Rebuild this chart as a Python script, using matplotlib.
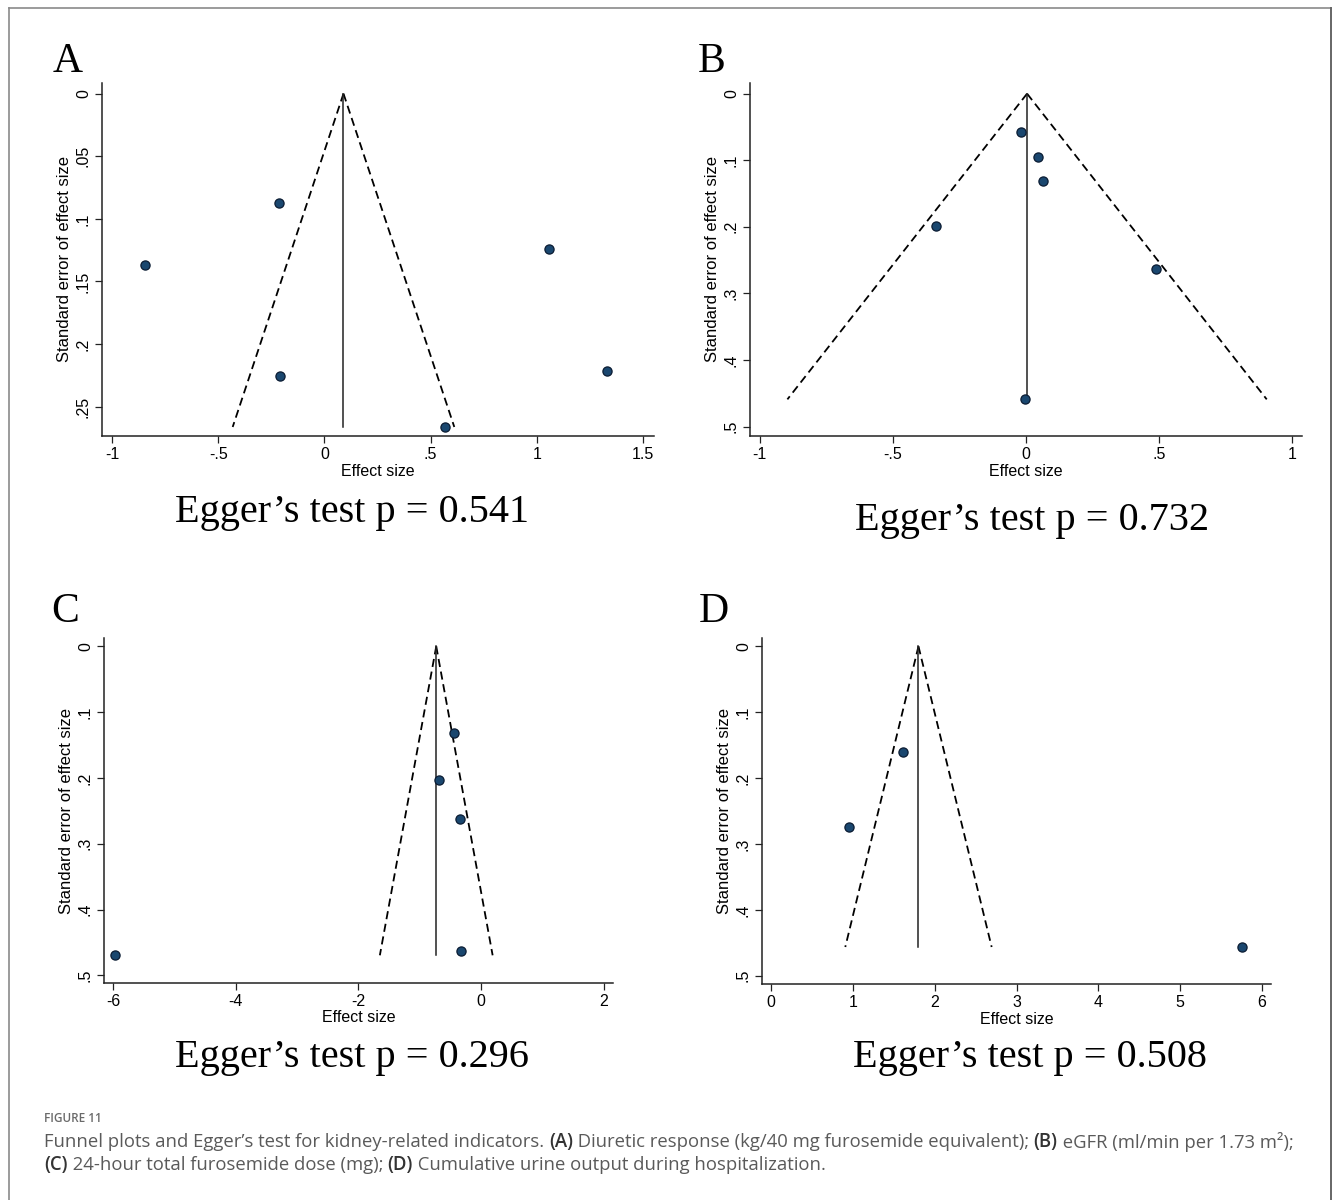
import matplotlib
matplotlib.use('Agg')
import matplotlib.pyplot as plt
from matplotlib.lines import Line2D
import numpy as np

W, H, DPI = 1333, 1200, 100

# ---------------- data ----------------
a_es = [-0.844, -0.215, -0.209, 0.569, 1.056, 1.331]
a_se = [0.1366, 0.0871, 0.2255, 0.2662, 0.1238, 0.2215]
a_theta = 0.090
a_xticks = [-1, -0.5, 0, 0.5, 1, 1.5]
a_xlabels = ["-1", "-.5", "0", ".5", "1", "1.5"]
a_yticks = [0, 0.05, 0.10, 0.15, 0.20, 0.25]
a_ylabels = ["0", ".05", ".1", ".15", ".2", ".25"]
a_p = "0.541"

b_es = [-0.020, 0.045, 0.062, -0.336, 0.487, -0.002]
b_se = [0.0575, 0.0945, 0.1305, 0.199, 0.264, 0.459]
b_theta = 0.004
b_xticks = [-1, -0.5, 0, 0.5, 1]
b_xlabels = ["-1", "-.5", "0", ".5", "1"]
b_yticks = [0, 0.1, 0.2, 0.3, 0.4, 0.5]
b_ylabels = ["0", ".1", ".2", ".3", ".4", ".5"]
b_p = "0.732"

c_es = [-5.97, -0.444, -0.692, -0.346, -0.333]
c_se = [0.4696, 0.1322, 0.2037, 0.2624, 0.4625]
c_theta = -0.73
c_xticks = [-6, -4, -2, 0, 2]
c_xlabels = ["-6", "-4", "-2", "0", "2"]
c_yticks = [0, 0.1, 0.2, 0.3, 0.4, 0.5]
c_ylabels = ["0", ".1", ".2", ".3", ".4", ".5"]
c_p = "0.296"

d_es = [1.615, 0.950, 5.761]
d_se = [0.160, 0.2746, 0.4565]
d_theta = 1.80
d_xticks = [0, 1, 2, 3, 4, 5, 6]
d_xlabels = ["0", "1", "2", "3", "4", "5", "6"]
d_yticks = [0, 0.1, 0.2, 0.3, 0.4, 0.5]
d_ylabels = ["0", ".1", ".2", ".3", ".4", ".5"]
d_p = "0.508"

panel_letters = ["A", "B", "C", "D"]
x_title = "Effect size"
y_title = "Standard error of effect size"
egger_fmt = "Egger\u2019s test p = {}"

caption_head = "FIGURE 11"
caption_line1 = [
    ("Funnel plots and Egger\u2019s test for kidney-related indicators. ", False),
    ("(A)", True),
    (" Diuretic response (kg/40 mg furosemide equivalent); ", False),
    ("(B)", True),
    (" eGFR (ml/min per 1.73 m\u00b2);", False),
]
caption_line2 = [
    ("(C)", True),
    (" 24-hour total furosemide dose (mg); ", False),
    ("(D)", True),
    (" Cumulative urine output during hospitalization.", False),
]

# ---------------- layout ----------------
panels = [
    dict(es=a_es, se=a_se, th=a_theta, xt=a_xticks, xl=a_xlabels, yt=a_yticks, yl=a_ylabels, p=a_p,
         box=(102, 83, 654, 436), xlim=(-1.047, 1.552), ylim=(0.2734, -0.0085),
         letter=(53, 72), egg=(352, 512)),
    dict(es=b_es, se=b_se, th=b_theta, xt=b_xticks, xl=b_xlabels, yt=b_yticks, yl=b_ylabels, p=b_p,
         box=(750, 83, 1302, 436), xlim=(-1.036, 1.036), ylim=(0.514, -0.016),
         letter=(698, 72), egg=(1032, 521)),
    dict(es=c_es, se=c_se, th=c_theta, xt=c_xticks, xl=c_xlabels, yt=c_yticks, yl=c_ylabels, p=c_p,
         box=(104, 638, 613, 983), xlim=(-6.153, 2.155), ylim=(0.5117, -0.0127),
         letter=(51, 622), egg=(352, 1057)),
    dict(es=d_es, se=d_se, th=d_theta, xt=d_xticks, xl=d_xlabels, yt=d_yticks, yl=d_ylabels, p=d_p,
         box=(762, 638, 1271, 984), xlim=(-0.113, 6.11), ylim=(0.5127, -0.0127),
         letter=(699, 622), egg=(1030, 1057)),
]

fig = plt.figure(figsize=(W / DPI, H / DPI), dpi=DPI)
fig.patch.set_facecolor('white')

def fx(x):
    return x / W

def fy(y):
    return 1 - y / H

sans = ['Liberation Sans', 'DejaVu Sans']
serif = ['Liberation Serif', 'DejaVu Serif']

for letter, P in zip(panel_letters, panels):
    l, t, r, b = P['box']
    ax = fig.add_axes([fx(l), fy(b), (r - l) / W, (b - t) / H])
    es = np.array(P['es'])
    se = np.array(P['se'])
    smax = se.max()
    th = P['th']
    se_line = np.array([0.0, smax])
    ax.plot(th - 1.96 * se_line, se_line, color='black', lw=1.3, ls=(0, (4.5, 2.6)), zorder=2)
    ax.plot(th + 1.96 * se_line, se_line, color='black', lw=1.3, ls=(0, (4.5, 2.6)), zorder=2)
    ax.plot([th, th], se_line, color='#222222', lw=1.1, zorder=2)
    ax.plot(es, se, 'o', ms=6.6, mfc='#1a476f', mec='#0b1c33', mew=0.9, zorder=3)
    ax.set_xlim(*P['xlim'])
    ax.set_ylim(*P['ylim'])
    for s in ['top', 'right']:
        ax.spines[s].set_visible(False)
    for s in ['left', 'bottom']:
        ax.spines[s].set_linewidth(1.1)
        ax.spines[s].set_color('#222222')
    ax.set_xticks(P['xt'])
    ax.set_xticklabels(P['xl'], fontfamily=sans, fontsize=11.5)
    ax.set_yticks(P['yt'])
    ax.set_yticklabels(P['yl'], fontfamily=sans, fontsize=11.5, rotation=90, va='center', ha='right')
    ax.tick_params(direction='out', length=5, width=0.9, pad=3, color='#222222')
    ax.set_xlabel(x_title, fontfamily=sans, fontsize=11.5, labelpad=1)
    ax.set_ylabel(y_title, fontfamily=sans, fontsize=12, labelpad=3)
    ax.patch.set_alpha(0)

    lx, ly = P['letter']
    fig.text(fx(lx), fy(ly), letter, fontfamily=serif, fontsize=30, ha='left', va='baseline')
    ex, ey = P['egg']
    fig.text(fx(ex), fy(ey), egger_fmt.format(P['p']), fontfamily=serif, fontsize=29,
             ha='center', va='center')

# border of the figure box
fig.add_artist(Line2D([fx(9), fx(9)], [fy(8), 0], transform=fig.transFigure, color='#8a8a8a', lw=1.2))
fig.add_artist(Line2D([fx(9), fx(1331)], [fy(8), fy(8)], transform=fig.transFigure, color='#8a8a8a', lw=1.2))
fig.add_artist(Line2D([fx(1331), fx(1331)], [fy(8), 0], transform=fig.transFigure, color='#666666', lw=1.4))

# caption
cap_font = ['Open Sans', 'DejaVu Sans']
fig.text(fx(44), fy(1119), caption_head, fontfamily=cap_font, fontsize=8.5, fontweight='semibold',
         color='#6a6a6a', ha='left', va='center')

renderer = fig.canvas.get_renderer()

def seg_width(txt, bold, size):
    probe = fig.text(0, 0, txt + '|', fontfamily=cap_font, fontsize=size,
                     fontweight='semibold' if bold else 'normal')
    bar = fig.text(0, 0, '|', fontfamily=cap_font, fontsize=size,
                   fontweight='semibold' if bold else 'normal')
    w = probe.get_window_extent(renderer).width - bar.get_window_extent(renderer).width
    probe.remove()
    bar.remove()
    return w

base_size = 11.0
target = 1297 - 44
w1 = sum(seg_width(t, b, base_size) for t, b in caption_line1)
cap_size = base_size * target / w1

def draw_line(segs, x0, ypix, size):
    x = x0
    for txt, bold in segs:
        fig.text(fx(x), fy(ypix), txt, fontfamily=cap_font, fontsize=size,
                 fontweight='semibold' if bold else 'normal',
                 color='#333333' if bold else '#5a5a5a', ha='left', va='center')
        x += seg_width(txt, bold, size)

draw_line(caption_line1, 44, 1142, cap_size)
draw_line(caption_line2, 44, 1165, cap_size)

fig.savefig('out.png', dpi=DPI, facecolor='white')
